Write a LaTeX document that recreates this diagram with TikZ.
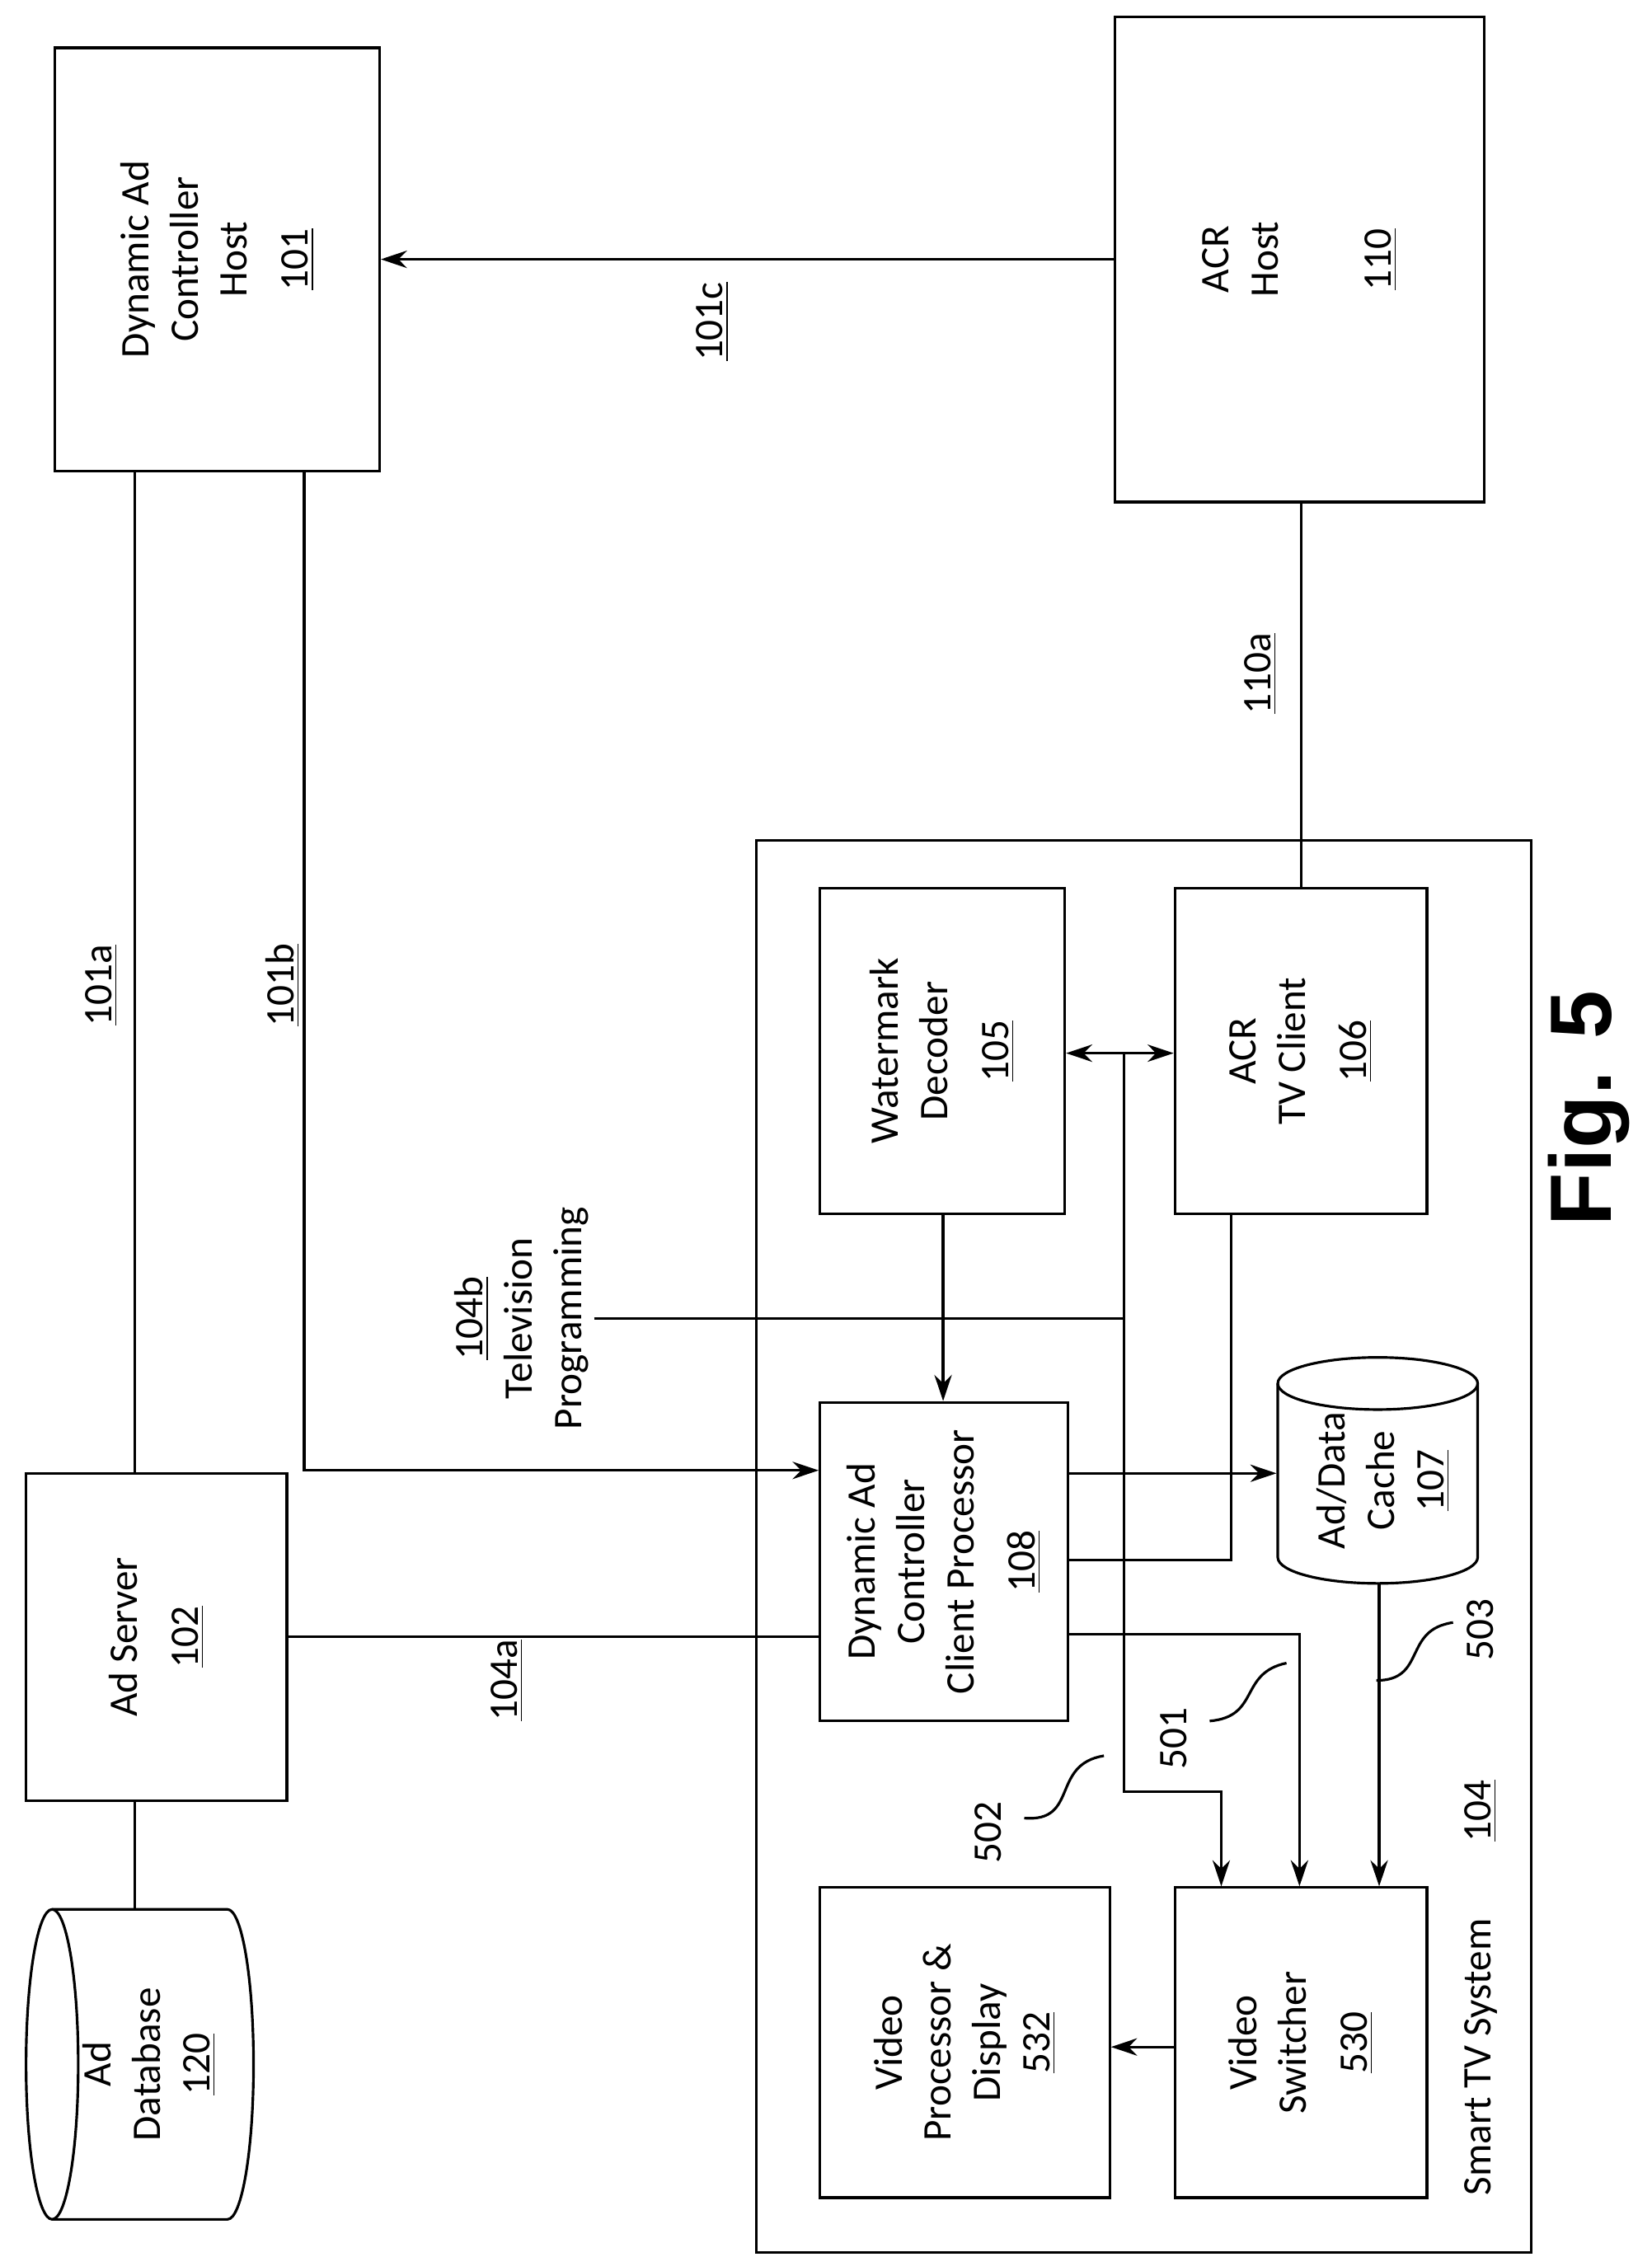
\documentclass[tikz,border=0pt]{standalone}
\usepackage{fontspec}
\setmainfont{Carlito}
\setsansfont{Liberation Sans}
\usetikzlibrary{arrows.meta}
\begin{document}
\begin{tikzpicture}[x=0.01757cm, y=-0.01757cm, line width=0.9pt,
  box/.style={draw, rectangle, inner sep=0pt},
  txt/.style={rotate=90, align=center, font=\fontsize{14}{17}\selectfont},
  arr/.style={-{Stealth[length=9pt,width=6pt]}}]
\useasboundingbox (0,0) rectangle (1140,1558);
% hosts
\node[box, minimum width=224*0.01757cm, minimum height=292*0.01757cm] (dach) at (150,179) {};
\node[txt] at (dach) {Dynamic Ad\\Controller\\Host\\[4pt]\underline{101}};
\node[box, minimum width=255*0.01757cm, minimum height=335*0.01757cm] (acrh) at (897,179) {};
\node[txt] at (acrh) {ACR\\Host\\[22pt]\underline{110}};
\draw[arr] (acrh.west) -- (dach.east);
\node[txt] at (492,222) {\underline{101c}};
% ad server and database
\node[box, minimum width=180*0.01757cm, minimum height=226*0.01757cm] (srv) at (108,1130) {};
\node[txt] at (srv) {Ad Server\\[4pt]\underline{102}};
\node[minimum width=157*0.01757cm, minimum height=214*0.01757cm, inner sep=0pt] (adb) at (96.5,1425) {};
\draw (36,1318) -- (157,1318) arc[start angle=-90, end angle=90, x radius=18, y radius=107] -- (36,1532);
\draw (36,1425) ellipse [x radius=18, y radius=107];
\node[txt] at (103,1425) {Ad\\Database\\\underline{120}};
\draw (93,0 |- srv.south) -- (93,0 |- adb.north);
\draw (93,0 |- dach.south) -- (93,0 |- srv.north);
\node[txt] at (70,680) {\underline{101a}};
% smart tv system
\node[box, minimum width=535*0.01757cm, minimum height=975*0.01757cm] (stv) at (789.5,1067.5) {};
\node[txt] at (1022,1420) {Smart TV System};
\node[txt] at (1022,1250) {\underline{104}};
\node[box, minimum width=169*0.01757cm, minimum height=225*0.01757cm] (wmd) at (650.5,725.5) {};
\node[txt] at (wmd) {Watermark\\Decoder\\[4pt]\underline{105}};
\node[box, minimum width=174*0.01757cm, minimum height=225*0.01757cm] (acrc) at (898,725.5) {};
\node[txt] at (acrc) {ACR\\TV Client\\[4pt]\underline{106}};
\node[box, minimum width=171*0.01757cm, minimum height=220*0.01757cm] (dcp) at (651.5,1078) {};
\node[txt] at (dcp) {Dynamic Ad\\Controller\\Client Processor\\[4pt]\underline{108}};
\node[minimum width=138*0.01757cm, minimum height=156*0.01757cm, inner sep=0pt] (cache) at (951,1015) {};
\draw (882,955) -- (882,1075) arc[start angle=180, end angle=0, x radius=69, y radius=18] -- (1020,955);
\draw (951,955) ellipse [x radius=69, y radius=18];
\node[txt] at (955,1022) {Ad/Data\\Cache\\\underline{107}};
\node[box, minimum width=174*0.01757cm, minimum height=214*0.01757cm] (vsw) at (898,1410) {};
\node[txt] at (vsw) {Video\\Switcher\\[4pt]\underline{530}};
\node[box, minimum width=200*0.01757cm, minimum height=214*0.01757cm] (vpd) at (666,1410) {};
\node[txt] at (vpd) {Video\\Processor \&\\Display\\\underline{532}};
% connectors
\draw (898,0 |- acrc.north) -- (898,0 |- acrh.south);
\node[txt] at (870,465) {\underline{110a}};
\draw[arr] (210,0 |- dach.south) -- (210,1015) -- (dcp.west |- 0,1015);
\node[txt] at (195,680) {\underline{101b}};
\draw (srv.east |- 0,1130) -- (dcp.west |- 0,1130);
\node[txt] at (350,1160) {\underline{104a}};
\draw[{Stealth[length=9pt,width=6pt]}-{Stealth[length=9pt,width=6pt]}] (wmd.east |- 0,727) -- (acrc.west |- 0,727);
\draw[arr] (776,727) -- (776,1237) -- (843,1237) -- (843,0 |- vsw.north);
\draw (410,910) -- (776,910);
\node[txt] at (360,910) {\underline{104b}\\Television\\Programming};
\draw[arr] (651,0 |- wmd.south) -- (651,0 |- dcp.north);
\draw[arr] (dcp.east |- 0,1017) -- (cache.west |- 0,1017);
\draw (850,0 |- acrc.south) -- (850,1077) -- (dcp.east |- 0,1077);
\draw[arr] (dcp.east |- 0,1128) -- (897,1128) -- (897,0 |- vsw.north);
\draw[arr] (952,1093) -- (952,0 |- vsw.north);
\draw[arr] (vsw.west |- 0,1413) -- (vpd.east |- 0,1413);
% squiggles
\draw (835,1188) .. controls (870,1185) and (855,1155) .. (888,1148);
\node[txt] at (810,1200) {501};
\draw (707,1255) .. controls (745,1258) and (725,1218) .. (762,1212);
\node[txt] at (682,1265) {502};
\draw (950,1160) .. controls (985,1160) and (968,1125) .. (1003,1120);
\node[txt] at (1022,1125) {503};
\node[rotate=90, font=\fontsize{30}{34}\selectfont\bfseries\sffamily] (fig) at (1097,765) {Fig. 5};
\end{tikzpicture}
\end{document}
